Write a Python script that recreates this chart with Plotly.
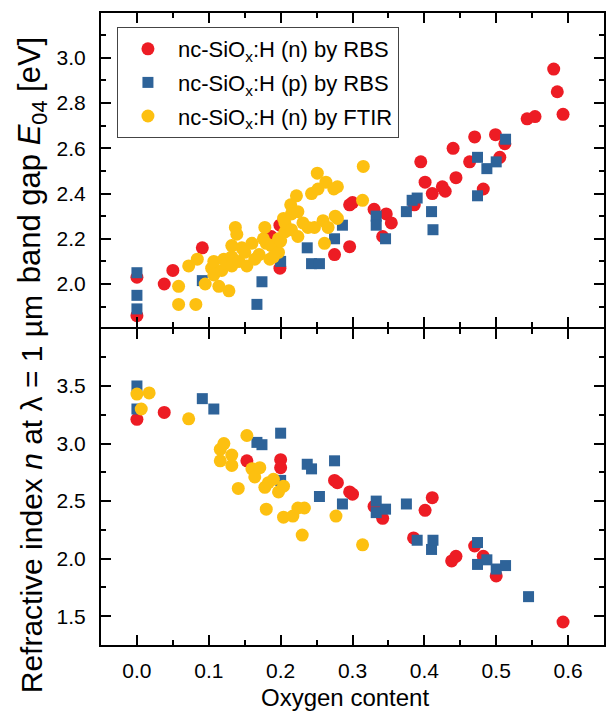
import plotly.graph_objects as go
from plotly.subplots import make_subplots

# ---------------- data ----------------
# top panel: band gap E04 [eV]
red_top_x = [0.000, 0.000, 0.038, 0.050, 0.091, 0.187, 0.199, 0.199, 0.275, 0.296, 0.296, 0.300,
             0.330, 0.342, 0.347, 0.354, 0.386, 0.395, 0.401, 0.411, 0.425, 0.429, 0.440, 0.444,
             0.463, 0.470, 0.482, 0.499, 0.505, 0.512, 0.543, 0.554, 0.580, 0.585, 0.593]
red_top_y = [2.03, 1.86, 2.00, 2.06, 2.16, 2.21, 2.26, 2.07, 2.13, 2.165, 2.35, 2.36,
             2.33, 2.21, 2.31, 2.27, 2.35, 2.54, 2.45, 2.40, 2.43, 2.41, 2.60, 2.47,
             2.54, 2.65, 2.42, 2.66, 2.56, 2.62, 2.73, 2.74, 2.95, 2.85, 2.75]

blue_top_x = [0.000, 0.000, 0.000, 0.091, 0.167, 0.174, 0.200, 0.237, 0.243, 0.254, 0.275, 0.286,
              0.333, 0.333, 0.346, 0.375, 0.383, 0.390, 0.410, 0.412, 0.474, 0.474, 0.487, 0.500, 0.513]
blue_top_y = [2.05, 1.95, 1.89, 2.015, 1.91, 2.01, 2.10, 2.16, 2.09, 2.09, 2.20, 2.26,
              2.30, 2.26, 2.20, 2.32, 2.37, 2.38, 2.32, 2.24, 2.39, 2.56, 2.51, 2.54, 2.64]

yel_top_x = [0.058, 0.058, 0.072, 0.082, 0.084, 0.095, 0.104, 0.107, 0.107, 0.114, 0.118, 0.121,
             0.125, 0.128, 0.132, 0.132, 0.132, 0.137, 0.139, 0.142, 0.146, 0.150, 0.153, 0.160,
             0.164, 0.170, 0.176, 0.178, 0.180, 0.185, 0.187, 0.190, 0.197, 0.197, 0.200, 0.204,
             0.206, 0.206, 0.214, 0.215, 0.215, 0.222, 0.224, 0.224, 0.231, 0.238, 0.243, 0.247,
             0.251, 0.252, 0.259, 0.261, 0.263, 0.266, 0.274, 0.276, 0.279, 0.279, 0.314, 0.315]
yel_top_y = [1.99, 1.91, 2.08, 1.91, 2.11, 2.00, 2.07, 2.10, 2.04, 1.99, 2.06, 2.11,
             2.09, 1.97, 2.17, 2.12, 2.08, 2.25, 2.22, 2.10, 2.16, 2.14, 2.08, 2.18,
             2.11, 2.13, 2.20, 2.25, 2.18, 2.11, 2.17, 2.12, 2.20, 2.14, 2.19, 2.29,
             2.23, 2.27, 2.35, 2.31, 2.24, 2.39, 2.21, 2.32, 2.27, 2.25, 2.40, 2.25,
             2.49, 2.42, 2.28, 2.18, 2.45, 2.25, 2.42, 2.30, 2.43, 2.29, 2.37, 2.52]

# bottom panel: refractive index n at 1 um
red_bot_x = [0.000, 0.038, 0.153, 0.200, 0.200, 0.275, 0.279, 0.296, 0.300, 0.330, 0.342, 0.385,
             0.401, 0.411, 0.438, 0.444, 0.470, 0.482, 0.500, 0.593]
red_bot_y = [3.21, 3.27, 2.85, 2.86, 2.79, 2.68, 2.66, 2.58, 2.56, 2.455, 2.35, 2.18,
             2.42, 2.53, 1.98, 2.02, 2.11, 2.02, 1.85, 1.45]

blue_bot_x = [0.000, 0.000, 0.091, 0.107, 0.167, 0.174, 0.200, 0.200, 0.237, 0.243, 0.254, 0.275,
              0.286, 0.333, 0.333, 0.346, 0.375, 0.390, 0.410, 0.412, 0.474, 0.474, 0.487, 0.500,
              0.513, 0.545]
blue_bot_y = [3.50, 3.30, 3.39, 3.30, 3.01, 2.99, 3.09, 2.68, 2.82, 2.78, 2.54, 2.85,
              2.475, 2.50, 2.40, 2.43, 2.475, 2.16, 2.08, 2.16, 2.14, 1.95, 1.99, 1.91,
              1.94, 1.67]

yel_bot_x = [0.000, 0.017, 0.006, 0.072, 0.116, 0.116, 0.121, 0.132, 0.132, 0.141, 0.153, 0.160,
             0.164, 0.171, 0.178, 0.180, 0.183, 0.190, 0.197, 0.204, 0.204, 0.217, 0.224, 0.233,
             0.230, 0.277, 0.314]
yel_bot_y = [3.43, 3.44, 3.30, 3.215, 2.95, 2.85, 3.00, 2.90, 2.81, 2.61, 3.07, 2.78,
             2.71, 2.79, 2.62, 2.43, 2.66, 2.69, 2.58, 2.63, 2.36, 2.37, 2.44, 2.44,
             2.205, 2.37, 2.12]

series_names = ["nc-SiO<sub>x</sub>:H (n) by RBS",
                "nc-SiO<sub>x</sub>:H (p) by RBS",
                "nc-SiO<sub>x</sub>:H (n) by FTIR"]
x_title = "Oxygen content"
y_title_top = "band gap <i>E</i><sub>04</sub> [eV]"
y_title_bot = "Refractive index <i>n</i> at λ = 1 µm"

RED = "#ED1C24"
BLUE = "#2E6399"
YEL = "#FDC010"
FONT = "Liberation Sans, Arial, sans-serif"

fig = make_subplots(rows=2, cols=1, shared_xaxes=True, vertical_spacing=0)

def add(x, y, name, color, symbol, size, row, show):
    fig.add_trace(go.Scatter(x=x, y=y, mode="markers", name=name, showlegend=show,
                             legendgroup=name,
                             marker=dict(color=color, symbol=symbol, size=size,
                                         line=dict(width=0))),
                  row=row, col=1)

add(red_top_x, red_top_y, series_names[0], RED, "circle", 13, 1, True)
add(blue_top_x, blue_top_y, series_names[1], BLUE, "square", 11, 1, True)
add(yel_top_x, yel_top_y, series_names[2], YEL, "circle", 13, 1, True)
add(red_bot_x, red_bot_y, series_names[0], RED, "circle", 13, 2, False)
add(blue_bot_x, blue_bot_y, series_names[1], BLUE, "square", 11, 2, False)
add(yel_bot_x, yel_bot_y, series_names[2], YEL, "circle", 13, 2, False)

axis_common = dict(showline=True, linecolor="black", linewidth=2, mirror="ticks",
                   ticks="inside", ticklen=10, tickwidth=2, tickcolor="black",
                   showgrid=False, zeroline=False,
                   tickfont=dict(family=FONT, size=21, color="black"),
                   minor=dict(ticks="inside", ticklen=5, tickwidth=2, tickcolor="black",
                              showgrid=False))

H = 712
T, B = 13, 67
PH = H - T - B
mid_top = (645 - 327) / PH   # bottom edge of upper panel
mid_bot = (645 - 329) / PH   # top edge of lower panel

fig.update_xaxes(**axis_common, range=[-0.05, 0.65], dtick=0.1, tick0=0, tickformat=".1f")
fig.update_xaxes(minor_dtick=0.05, minor_tick0=0)
fig.update_xaxes(showticklabels=False, row=1, col=1)
fig.update_xaxes(ticklabelstandoff=6, row=2, col=1)

fig.update_yaxes(**axis_common)
fig.update_yaxes(range=[1.81, 3.198], dtick=0.2, tick0=2.0, tickformat=".1f",
                 minor_dtick=0.1, minor_tick0=2.0, domain=[mid_top, 1.0],
                 ticklabelstandoff=9, row=1, col=1)
fig.update_yaxes(range=[1.25, 3.995], dtick=0.5, tick0=1.5, tickformat=".1f",
                 minor_dtick=0.25, minor_tick0=1.5, domain=[0.0, mid_bot],
                 ticklabelstandoff=9, row=2, col=1)

fig.add_annotation(text=y_title_top, xref="paper", yref="paper",
                   x=(32 - 101) / 505, y=1 - (160 - T) / PH, textangle=-90,
                   showarrow=False, xanchor="center", yanchor="middle",
                   font=dict(family=FONT, size=31, color="black"))
fig.add_annotation(text=y_title_bot, xref="paper", yref="paper",
                   x=(32 - 101) / 505, y=1 - (494 - T) / PH, textangle=-90,
                   showarrow=False, xanchor="center", yanchor="middle",
                   font=dict(family=FONT, size=30, color="black"))
fig.add_annotation(text=x_title, xref="paper", yref="paper",
                   x=(346 - 101) / 505, y=1 - (697 - T) / PH,
                   showarrow=False, xanchor="center", yanchor="middle",
                   font=dict(family=FONT, size=24, color="black"))

fig.update_layout(
    width=606, height=712,
    margin=dict(l=101, r=0, t=T, b=B),
    paper_bgcolor="white", plot_bgcolor="white",
    font=dict(family=FONT, color="black"),
    legend=dict(x=(117 - 101) / 505, y=1 - (27 - T) / PH, xanchor="left", yanchor="top",
                bgcolor="white", bordercolor="#444444", borderwidth=1,
                font=dict(family=FONT, size=22, color="black"),
                itemwidth=50, tracegroupgap=2),
)

fig.write_html("out.html")
